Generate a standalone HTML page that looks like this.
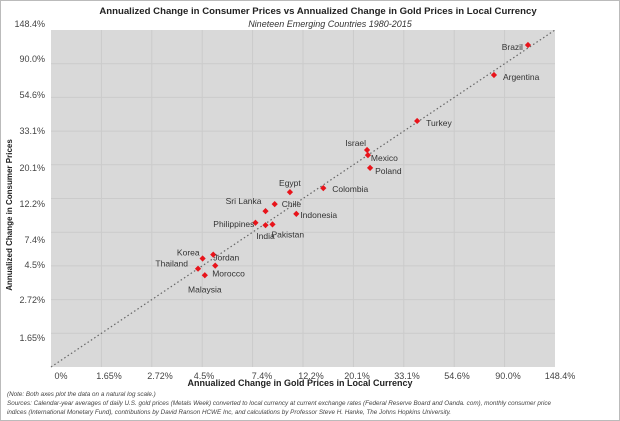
<!DOCTYPE html>
<html><head><meta charset="utf-8"><style>
body{margin:0;background:#fff;}
svg{display:block;font-family:"Liberation Sans",sans-serif;}
</style></head><body>
<svg id="c" width="620" height="421"></svg>
<script>
const countries=["Brazil","Argentina","Turkey","Israel","Mexico","Poland","Colombia","Egypt","Chile","Sri Lanka","Indonesia","Philippines","India","Pakistan","Korea","Jordan","Thailand","Morocco","Malaysia"];
const goldPct=[113.5,81.0,37.8,23.0,23.2,23.7,14.9,10.7,9.2,8.4,11.4,7.6,8.4,9.0,4.5,5.0,4.3,5.1,4.6];
const cpiPct=[118.8,76.1,38.5,25.0,23.2,19.2,14.2,13.4,11.2,10.1,9.7,8.5,8.2,8.3,5.0,5.3,4.3,4.5,3.9];
const xTickLabels=["0%","1.65%","2.72%","4.5%","7.4%","12.2%","20.1%","33.1%","54.6%","90.0%","148.4%"];
const yTickLabels=["0%","1.65%","2.72%","4.5%","7.4%","12.2%","20.1%","33.1%","54.6%","90.0%","148.4%"];
const lblOff={"Brazil":[-5,5,"end"],"Argentina":[9,5,"start"],"Turkey":[9,5,"start"],"Israel":[-1,-4,"end"],"Mexico":[3,6,"start"],"Poland":[5,6,"start"],"Colombia":[9,4,"start"],"Egypt":[0,-6,"middle"],"Chile":[7,3,"start"],"Sri Lanka":[-4,-7,"end"],"Indonesia":[4,4,"start"],"Philippines":[-1,4,"end"],"India":[0,14,"middle"],"Pakistan":[-1,13,"start"],"Korea":[-3,-3,"end"],"Jordan":[0,6,"start"],"Thailand":[-10,-2,"end"],"Morocco":[-3,11,"start"],"Malaysia":[0,17,"middle"]};
const NS="http://www.w3.org/2000/svg";
const svg=document.getElementById('c');
const L=51,R=555,T=30,B=367;
function xs(p){return L+Math.log(p)/5*(R-L);}
function ys(p){return B-Math.log(p)/5*(B-T);}
function mk(t,a,txt){const e=document.createElementNS(NS,t);for(const k in a)e.setAttribute(k,a[k]);if(txt!==undefined)e.textContent=txt;svg.appendChild(e);return e;}
let e;
e=mk('rect',{x:0.5,y:0.5,width:619,height:420,fill:'#fff',stroke:'#bbb'});


e=mk('rect',{x:L,y:T,width:R-L,height:B-T,fill:'#d9d9d9'});


for(let i=1;i<10;i++){
 e=mk('line',{x1:L+i*(R-L)/10,x2:L+i*(R-L)/10,y1:T,y2:B,stroke:'#cbcbcb','stroke-width':1});
 
 
 e=mk('line',{x1:L,x2:R,y1:B-i*(B-T)/10,y2:B-i*(B-T)/10,stroke:'#cbcbcb','stroke-width':1});
 
 
}
e=mk('line',{x1:xs(1),y1:ys(1),x2:xs(Math.exp(5)),y2:ys(Math.exp(5)),stroke:'#666','stroke-width':1.2,'stroke-dasharray':'1.5,2.5'});


const xLabX=[61,109,160,204,262,311,357,407,457,508,560];
xTickLabels.forEach((t,i)=>{
 e=mk('text',{x:xLabX[i],y:379,'font-size':9,fill:'#444','text-anchor':'middle'},t);
 
 
});
const yLabY=[null,341,303,268,243,207,171,134,98,62,27];
yTickLabels.forEach((t,i)=>{
 if(i===0)return;
 e=mk('text',{x:45,y:yLabY[i],'font-size':9,fill:'#444','text-anchor':'end'},t);
 
 
});
countries.forEach((c,i)=>{
 const px=xs(goldPct[i]),py=ys(cpiPct[i]);
 e=mk('rect',{x:px-2.2,y:py-2.2,width:4.4,height:4.4,fill:'#e8141b',transform:`rotate(45 ${px} ${py})`});
 
 
 const o=lblOff[c];
 e=mk('text',{x:px+o[0],y:py+o[1],'font-size':8.5,fill:'#333','text-anchor':o[2]},c);
 
 
});
e=mk('text',{x:318,y:14,'font-size':9.6,'font-weight':'bold',fill:'#222','text-anchor':'middle'},'Annualized Change in Consumer Prices vs Annualized Change in Gold Prices in Local Currency');


e=mk('text',{x:330,y:27,'font-size':9,'font-style':'italic',fill:'#333','text-anchor':'middle'},'Nineteen Emerging Countries 1980-2015');


e=mk('text',{x:0,y:0,'font-size':8,'font-weight':'bold',fill:'#222','text-anchor':'middle',transform:'translate(12,215) rotate(-90)'},'Annualized  Change in Consumer Prices');


e=mk('text',{x:300,y:386,'font-size':9,'font-weight':'bold',fill:'#222','text-anchor':'middle'},'Annualized  Change in Gold Prices in Local Currency');


e=mk('text',{x:7,y:396,'font-size':6.3,'font-style':'italic',fill:'#444'},'(Note:  Both axes plot the data on a natural log scale.)');


e=mk('text',{x:7,y:405,'font-size':6.3,'font-style':'italic',fill:'#444'},'Sources: Calendar-year averages of daily U.S. gold prices (Metals Week) converted to local currency at current exchange rates (Federal Reserve Board and Oanda. com), monthly consumer price');


e=mk('text',{x:7,y:414,'font-size':6.3,'font-style':'italic',fill:'#444'},'indices (International Monetary Fund), contributions by David Ranson HCWE Inc, and calculations by Professor Steve H. Hanke, The Johns Hopkins University.');


</script>
</body></html>
